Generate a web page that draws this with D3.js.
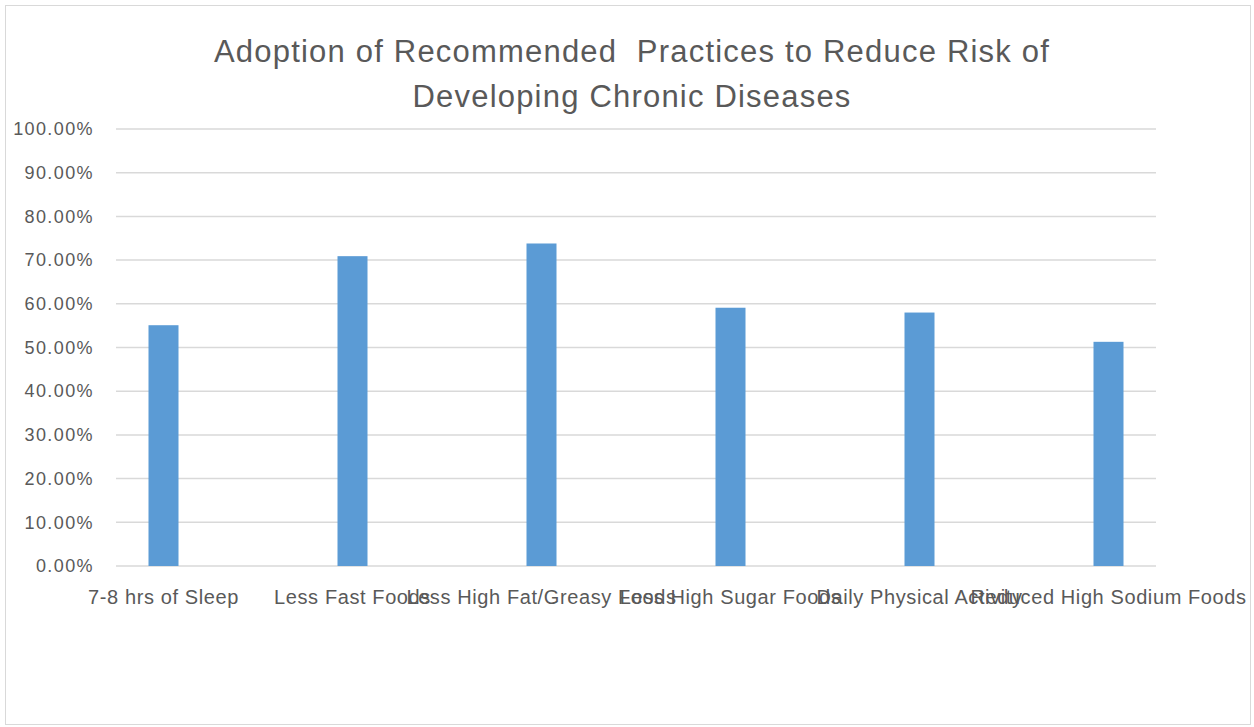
<!DOCTYPE html>
<html lang="en">

<head>
    <meta charset="UTF-8">
    <title>Adoption of Recommended Practices</title>
    <script src="https://d3js.org/d3.v7.min.js"></script>
    <style>
        html,
        body {
            margin: 0;
            padding: 0;
            overflow: hidden;
            background: #ffffff;
            font-family: "Liberation Sans", Arial, sans-serif;
        }
    </style>
</head>

<body>
    <svg id="chart" width="1254" height="727"></svg>

    <script>
        const categories = [
            "7-8 hrs of Sleep",
            "Less Fast Foods",
            "Less High Fat/Greasy Foods",
            "Less High Sugar Foods",
            "Daily Physical Activity",
            "Reduced High Sodium Foods"
        ];
        const values = [0.551, 0.709, 0.738, 0.591, 0.580, 0.513];
        const y_ticks = [0, 0.1, 0.2, 0.3, 0.4, 0.5, 0.6, 0.7, 0.8, 0.9, 1.0];
        const title_lines = [
            "Adoption of Recommended  Practices to Reduce Risk of",
            "Developing Chronic Diseases"
        ];

        const svg = d3.select("#chart");
        const text_color = "#595959";

        // outer chart frame
        svg.append("rect")
            .attr("x", 5.5).attr("y", 5.5)
            .attr("width", 1245).attr("height", 719)
            .attr("fill", "#fff")
            .attr("stroke", "#d9d9d9")
            .attr("stroke-width", 1);

        const grid_left = 116, grid_right = 1156;
        const y = d3.scaleLinear().domain([0, 1]).range([566, 129]);
        const x = d3.scaleBand().domain(categories).range([69, 1203]);
        const bar_width = 30;

        svg.append("g")
            .selectAll("text")
            .data(title_lines)
            .join("text")
            .attr("x", 632)
            .attr("y", (d, i) => 62 + i * 45)
            .attr("text-anchor", "middle")
            .attr("font-size", "31px")
            .attr("letter-spacing", "1.2px")
            .attr("fill", text_color)
            .style("white-space", "pre")
            .text(d => d);

        // gridlines
        svg.append("g")
            .selectAll("line")
            .data(y_ticks)
            .join("line")
            .attr("x1", grid_left).attr("x2", grid_right)
            .attr("y1", d => y(d)).attr("y2", d => y(d))
            .attr("stroke", "#d9d9d9")
            .attr("stroke-width", 1.5);

        // y axis labels
        const y_axis = d3.axisLeft(y)
            .tickValues(y_ticks)
            .tickFormat(d3.format(".2%"))
            .tickSize(0)
            .tickPadding(0);

        svg.append("g")
            .attr("transform", "translate(94,0)")
            .call(y_axis)
            .call(g => g.select(".domain").remove())
            .call(g => g.selectAll("text")
                .attr("font-size", "18px")
                .attr("letter-spacing", "1.4px")
                .attr("font-family", "'Liberation Sans', Arial, sans-serif")
                .attr("fill", text_color));

        svg.append("g")
            .selectAll("rect")
            .data(values)
            .join("rect")
            .attr("x", (d, i) => x(categories[i]) + x.bandwidth() / 2 - bar_width / 2)
            .attr("y", d => y(d))
            .attr("width", bar_width)
            .attr("height", d => y(0) - y(d))
            .attr("fill", "#5b9bd5");

        // category labels, overlapping like the original
        const x_axis = d3.axisBottom(x).tickSize(0).tickPadding(0);
        svg.append("g")
            .attr("transform", "translate(0,590)")
            .call(x_axis)
            .call(g => g.select(".domain").remove())
            .call(g => g.selectAll("text")
                .attr("font-size", "20px")
                .attr("letter-spacing", "0.6px")
                .attr("font-family", "'Liberation Sans', Arial, sans-serif")
                .attr("fill", text_color));
    </script>
</body>

</html>
